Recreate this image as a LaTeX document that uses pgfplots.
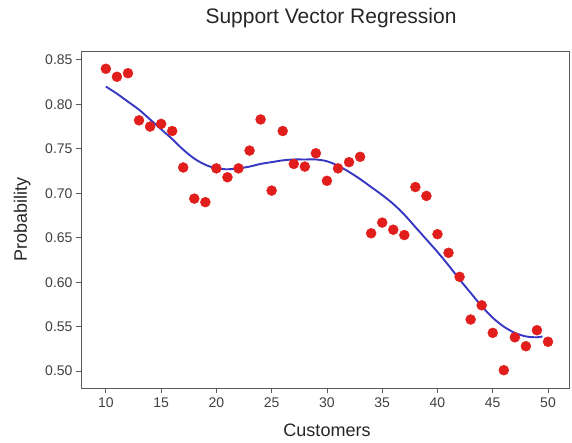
\documentclass[border=0pt]{standalone}
\usepackage{fontspec}
\setmainfont{Liberation Sans}
\usepackage{pgfplots}
\pgfplotsset{compat=1.18}
\definecolor{dotred}{RGB}{226,30,28}
\definecolor{lineblue}{RGB}{55,55,195}
\definecolor{framegray}{RGB}{90,90,90}
\begin{document}
\begin{tikzpicture}
\useasboundingbox (-81pt,-55pt) rectangle (491pt,388pt);
\begin{axis}[
  at={(0,0)}, anchor=south west,
  scale only axis, width=488pt, height=337pt,
  xmin=7.75, xmax=51.9, ymin=0.481, ymax=0.860,
  xtick={10,15,...,50},
  ytick={0.50,0.55,0.60,0.65,0.70,0.75,0.80,0.85},
  yticklabel style={/pgf/number format/.cd, fixed, fixed zerofill, precision=2},
  /pgf/number format/assume math mode=true,
  tick align=outside, tick pos=left,
  major tick length=5pt,
  every tick/.style={framegray, line width=0.8pt},
  axis line style={framegray, line width=0.9pt},
  ticklabel style={font=\fontsize{14}{14}\selectfont, text=black!75},
  title={Support Vector Regression},
  title style={font=\fontsize{21}{22}\selectfont, text=black!85, at={(axis description cs:0.5,1)}, anchor=base, yshift=21pt, xshift=6pt},
  xlabel={Customers},
  ylabel={Probability},
  every axis x label/.style={at={(axis description cs:0.5,0)}, anchor=base, yshift=-49pt, xshift=2pt, font=\fontsize{18}{18}\selectfont, text=black!85},
  every axis y label/.style={at={(axis description cs:0,0.5)}, anchor=base, rotate=90, yshift=54pt, font=\fontsize{18}{18}\selectfont, text=black!85},
  xtick style={framegray}, ytick style={framegray},
  xticklabel style={yshift=-1pt},
]
\addplot[only marks, mark=*, mark size=5pt, mark options={fill=dotred, draw=dotred}] coordinates {
(10,0.840) (11,0.831) (12,0.835) (13,0.782) (14,0.775) (15,0.778) (16,0.770)
(17,0.729) (18,0.694) (19,0.690) (20,0.728) (21,0.718) (22,0.728) (23,0.748)
(24,0.783) (25,0.703) (26,0.770) (27,0.733) (28,0.730) (29,0.745) (30,0.714)
(31,0.728) (32,0.735) (33,0.741) (34,0.655) (35,0.667) (36,0.659) (37,0.653)
(38,0.707) (39,0.697) (40,0.654) (41,0.633) (42,0.606) (43,0.558) (44,0.574)
(45,0.543) (46,0.501) (47,0.538) (48,0.528) (49,0.546) (50,0.533)
};
\addplot[lineblue, line width=1.9pt, smooth] coordinates {
(10,0.820) (11,0.812) (12,0.803) (13,0.794) (14,0.783) (15,0.772) (16,0.761)
(17,0.749) (18,0.739) (19,0.732) (20,0.728) (21,0.727) (22,0.728) (23,0.730)
(24,0.733) (25,0.735) (26,0.737) (27,0.738) (28,0.738) (29,0.738) (30,0.736)
(31,0.731) (32,0.724) (33,0.716) (34,0.707) (35,0.698) (36,0.688) (37,0.676)
(38,0.662) (39,0.648) (40,0.634) (41,0.619) (42,0.603) (43,0.588) (44,0.573)
(45,0.560) (46,0.550) (47,0.543) (48,0.539) (49,0.538) (49.5,0.539)
};
\end{axis}
\end{tikzpicture}
\end{document}
